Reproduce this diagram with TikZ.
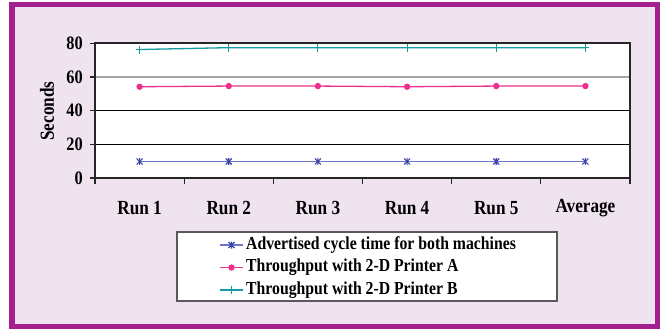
\documentclass[tikz,border=0pt]{standalone}
\usepackage{fontspec}
\setmainfont{Liberation Serif}[FakeStretch=0.86]
\definecolor{frame}{RGB}{163,32,142}
\definecolor{panel}{RGB}{239,227,240}
\definecolor{advblue}{RGB}{60,70,170}
\definecolor{advline}{RGB}{110,120,200}
\definecolor{prnpink}{RGB}{236,48,144}
\definecolor{prnteal}{RGB}{20,155,160}
\tikzset{
  ticklbl/.style={anchor=east,inner sep=0pt,font=\fontsize{19}{19}\selectfont\bfseries},
  catlbl/.style={inner sep=0pt,font=\fontsize{20}{20}\selectfont\bfseries},
  leglbl/.style={anchor=west,inner sep=0pt,font=\fontsize{18.3}{18.3}\selectfont\bfseries},
  series/.style={line width=1.3pt},
  pics/advmark/.style={code={\draw[advblue,line width=1.1pt] (-3,-3)--(3,3) (-3,3)--(3,-3) (0,-3.5)--(0,3.5);}},
  pics/pinkmark/.style={code={\fill[prnpink] (0,0) circle (3.2);}},
  pics/tealmark/.style={code={\draw[prnteal,line width=1.1pt] (-4,0)--(4,0) (0,-4)--(0,4);}}
}
\begin{document}
\begin{tikzpicture}[x=1pt,y=-1pt]
\useasboundingbox (0,0) rectangle (663,329);
% outer panel
\fill[panel] (12,4.5) rectangle (657.5,326.5);
\draw[frame,line width=5.5pt] (12,4.5) rectangle (657.5,326.5);

% plot area
\fill[white] (95,43.3) rectangle (630,178);
\draw[gray!70,line width=2pt] (95,77) -- (630,77);
\foreach \v in {20,40}{
  \draw[black,line width=1.1pt] (95,{178-1.684*\v}) -- (630,{178-1.684*\v});
}
\draw[black!85,line width=1.6pt] (95,43.3) rectangle (630,178);
\foreach \v in {0,20,...,80}{
  \draw[black!85,line width=1.1pt] (90,{178-1.684*\v}) -- (95,{178-1.684*\v});
  \node[ticklbl] (y\v) at (83,{178-1.684*\v}) {\v};
}
\foreach \k in {0,...,6}{
  \draw[black!85,line width=1.1pt] ({95+\k*89.17},178) -- ({95+\k*89.17},184);
}
\foreach \c [count=\i] in {Run 1,Run 2,Run 3,Run 4,Run 5,Average}{
  \node[catlbl] (c\i) at ({95+(\i-0.5)*89.17},208) {\c};
}
\node[inner sep=0pt,rotate=90,font=\fontsize{20}{20}\selectfont\bfseries] (ylab) at (47,111) {Seconds};

% data
\foreach \v [count=\i] in {76.3,77.4,77.4,77.4,77.4,77.4}{
  \coordinate (t\i) at ({95+(\i-0.5)*89.17},{178-1.684*\v});
}
\foreach \v [count=\i] in {54.2,54.6,54.6,54.2,54.6,54.6}{
  \coordinate (p\i) at ({95+(\i-0.5)*89.17},{178-1.684*\v});
}
\foreach \i in {1,...,6}{
  \coordinate (a\i) at ({95+(\i-0.5)*89.17},{178-1.684*9.8});
}
\draw[series,prnteal] (t1) \foreach \i in {2,...,6}{ -- (t\i)};
\draw[series,prnpink] (p1) \foreach \i in {2,...,6}{ -- (p\i)};
\draw[series,advline] (a1) \foreach \i in {2,...,6}{ -- (a\i)};
\foreach \i in {1,...,6}{
  \pic at (t\i) {tealmark};
  \pic at (p\i) {pinkmark};
  \pic at (a\i) {advmark};
}

% legend
\draw[black!65,line width=1.2pt,fill=white] (177,232) rectangle (557,301);
\draw[series,advline] (220,245) -- (243,245);
\pic at (231.5,245) {advmark};
\node[leglbl] (l1) at (246,245) {Advertised cycle time for both machines};
\draw[series,prnpink] (220,267.5) -- (243,267.5);
\pic at (231.5,267.5) {pinkmark};
\node[leglbl] (l2) at (246,267.5) {Throughput with 2-D Printer A};
\draw[series,prnteal] (220,290) -- (243,290);
\pic at (231.5,290) {tealmark};
\node[leglbl] (l3) at (246,290) {Throughput with 2-D Printer B};
\end{tikzpicture}
\end{document}
